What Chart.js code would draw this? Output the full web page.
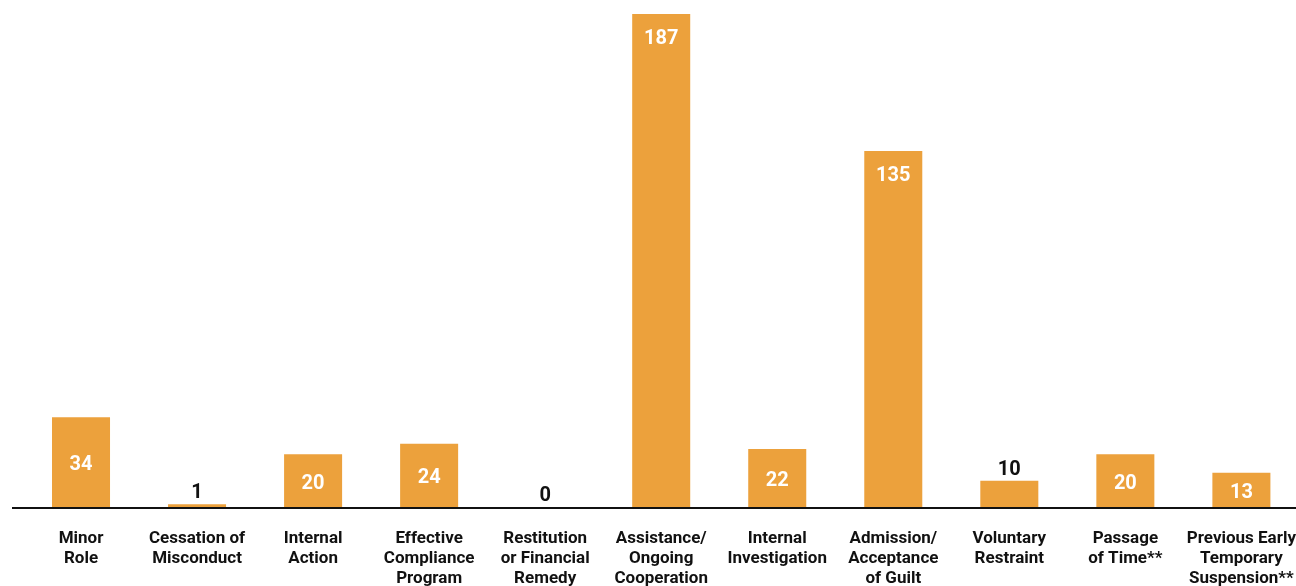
<!DOCTYPE html>
<html>
<head>
<meta charset="utf-8">
<script src="https://cdn.jsdelivr.net/npm/chart.js@4.4.1/dist/chart.umd.min.js"></script>
<style>
  html, body { margin: 0; padding: 0; background: #fff; overflow: hidden; }
  #wrap { width: 1310px; height: 586px; }
</style>
</head>
<body>
<div id="wrap"><canvas id="factors-chart"></canvas></div>
<script>
const categories = [
  ['Minor', 'Role'],
  ['Cessation of', 'Misconduct'],
  ['Internal', 'Action'],
  ['Effective', 'Compliance', 'Program'],
  ['Restitution', 'or Financial', 'Remedy'],
  ['Assistance/', 'Ongoing', 'Cooperation'],
  ['Internal', 'Investigation'],
  ['Admission/', 'Acceptance', 'of Guilt'],
  ['Voluntary', 'Restraint'],
  ['Passage', 'of Time**'],
  ['Previous Early', 'Temporary', 'Suspension**']
];
const counts = [34, 1, 20, 24, 0, 187, 22, 135, 10, 20, 13];

const ORANGE = '#eca13c';
const FONT = 'Roboto';

// value labels + baseline
const valueLabels = {
  id: 'valueLabels',
  afterDatasetsDraw(chart) {
    const ctx = chart.ctx;
    const meta = chart.getDatasetMeta(0);
    const zero = chart.scales.y.getPixelForValue(0);

    ctx.save();
    ctx.strokeStyle = '#111';
    ctx.lineWidth = 2;
    ctx.beginPath();
    ctx.moveTo(12, zero + 1);
    ctx.lineTo(chart.width, zero + 1);
    ctx.stroke();

    ctx.font = 'bold 20px ' + FONT;
    ctx.textAlign = 'center';
    ctx.textBaseline = 'middle';
    meta.data.forEach((bar, i) => {
      const h = bar.base - bar.y;
      let y;
      if (h < 30) {
        ctx.fillStyle = '#111';
        y = bar.y - 11;
      } else {
        ctx.fillStyle = '#fff';
        y = h < 100 ? (bar.y + bar.base) / 2 + 3 : bar.y + 25;
      }
      ctx.fillText(String(counts[i]), bar.x, y);
    });
    ctx.restore();
  }
};

new Chart(document.getElementById('factors-chart'), {
  type: 'bar',
  data: {
    labels: categories,
    datasets: [{
      label: '',
      data: counts,
      backgroundColor: ORANGE,
      borderWidth: 0,
      barPercentage: 0.5,
      categoryPercentage: 1
    }]
  },
  options: {
    responsive: true,
    maintainAspectRatio: false,
    animation: false,
    layout: {
      padding: { top: 14, left: 23, right: 0, bottom: -17 }
    },
    plugins: {
      legend: { display: false },
      tooltip: { enabled: false }
    },
    scales: {
      x: {
        grid: { display: false },
        border: { display: false },
        ticks: {
          color: '#111',
          padding: 14,
          maxRotation: 0,
          autoSkip: false,
          font: { family: FONT, size: 17, weight: 'bold', lineHeight: '20px' }
        }
      },
      y: {
        display: false,
        min: 0,
        max: 187
      }
    }
  },
  plugins: [valueLabels]
});
</script>
</body>
</html>
